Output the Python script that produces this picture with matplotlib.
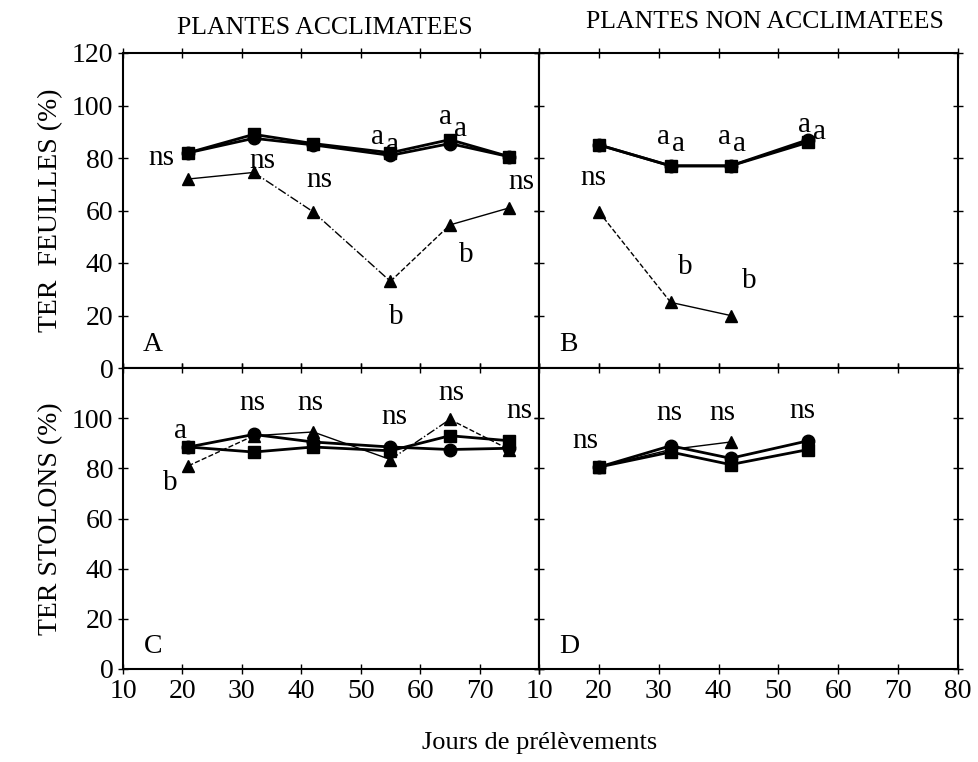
import matplotlib
matplotlib.use("Agg")
import matplotlib.pyplot as plt

plt.rcParams['font.family'] = ['Liberation Serif', 'DejaVu Serif']

# ---------------- data ----------------
days_acc = [21, 32, 42, 55, 65, 75]
days_non = [20, 32, 42, 55]
days_non_tri = [20, 32, 42]

# Panel A: TER feuilles, plantes acclimatées
A_square = [82, 89, 85.5, 82, 87, 80.5]
A_circle = [82, 87.5, 85, 81, 85.5, 80.5]
A_triangle = [72, 74.5, 59.5, 33, 54.5, 61]

# Panel B: TER feuilles, plantes non acclimatées
B_square = [85, 77, 77, 86]
B_circle = [85, 77, 77, 87]
B_triangle = [59.5, 25, 20]

# Panel C: TER stolons, plantes acclimatées
C_square = [88.5, 86.5, 88.5, 87, 93, 91]
C_circle = [88.5, 93.5, 90.5, 88.5, 87.5, 88]
C_triangle = [81, 93, 94.5, 83.5, 99.5, 87.5]

# Panel D: TER stolons, plantes non acclimatées
D_square = [80.5, 86.5, 81.5, 87.5]
D_circle = [80.5, 89, 84, 91]
D_triangle = [80.5, 87.5, 90.5]

# annotations (text, x, y)
A_notes = [("ns", 16.5, 80), ("ns", 33.5, 79), ("ns", 43, 71.5),
           ("a", 52.8, 88), ("a", 55.3, 85), ("a", 64.3, 95.5), ("a", 66.8, 91),
           ("b", 56, 19.5), ("b", 67.8, 43), ("ns", 77, 71)]
B_notes = [("ns", 19, 72.5), ("a", 30.8, 88), ("a", 33.3, 85.2),
           ("a", 41.0, 88), ("a", 43.5, 85.5), ("a", 54.3, 92.5), ("a", 56.8, 90)]
B_notes += [("b", 34.4, 38.5), ("b", 45.2, 33)]
C_notes = [("a", 19.7, 95), ("b", 18, 74), ("ns", 31.7, 106), ("ns", 41.6, 106),
           ("ns", 55.6, 100.5), ("ns", 65.3, 110), ("ns", 76.7, 103)]
D_notes = [("ns", 17.7, 91), ("ns", 31.8, 102), ("ns", 40.7, 102), ("ns", 54, 103)]

panel_letters = ["A", "B", "C", "D"]
titles = ["PLANTES ACCLIMATEES", "PLANTES NON ACCLIMATEES"]
ylabels = ["TER  FEUILLES (%)", "TER STOLONS (%)"]
xlabel = "Jours de prélèvements"
xticks = [10, 20, 30, 40, 50, 60, 70, 80]
yticks_top = [0, 20, 40, 60, 80, 100, 120]
yticks_bot = [0, 20, 40, 60, 80, 100]

# triangle segment line styles (per segment)
tri_styles = {
    "A": ['-', '-.', '-.', '--', '-'],
    "B": ['--', '-'],
    "C": ['--', '-', '-', '-.', '--'],
    "D": ['-', '-'],
}

# ---------------- figure ----------------
fig = plt.figure(figsize=(9.79, 7.62), dpi=100)
L, M, R = 123 / 979, 539 / 979, 958 / 979
T, MID, B = 1 - 53 / 762, 1 - 368 / 762, 1 - 669 / 762
axA = fig.add_axes([L, MID, M - L, T - MID])
axB = fig.add_axes([M, MID, R - M, T - MID])
axC = fig.add_axes([L, B, M - L, MID - B])
axD = fig.add_axes([M, B, R - M, MID - B])


def draw_tri(ax, x, y, styles):
    for i in range(len(x) - 1):
        ax.plot(x[i:i + 2], y[i:i + 2], color='black', lw=1.0, ls=styles[i])
    ax.plot(x, y, ls='none', marker='^', ms=9, color='black')


def draw(ax, x, sq, ci, xt, tri, styles, notes, letter):
    ax.plot(x, ci, color='black', lw=2.0, marker='o', ms=9)
    ax.plot(x, sq, color='black', lw=2.0, marker='s', ms=8)
    draw_tri(ax, xt, tri, styles)
    for t, xx, yy in notes:
        ax.text(xx, yy, t, fontsize=21, ha='center', va='center')
    ax.text(15, 9, letter, fontsize=20, ha='center', va='center')


draw(axA, days_acc, A_square, A_circle, days_acc, A_triangle, tri_styles["A"], A_notes, "A")
draw(axB, days_non, B_square, B_circle, days_non_tri, B_triangle, tri_styles["B"], B_notes, "B")
draw(axC, days_acc, C_square, C_circle, days_acc, C_triangle, tri_styles["C"], C_notes, "C")
draw(axD, days_non, D_square, D_circle, days_non_tri, D_triangle, tri_styles["D"], D_notes, "D")

for ax in (axA, axB, axC, axD):
    ax.set_xlim(10, 80)
    ax.set_ylim(0, 120)
    ax.set_xticks(xticks)
    ax.tick_params(direction='inout', length=7, width=1, top=True, right=True,
                   labelsize=20)
    for s in ax.spines.values():
        s.set_linewidth(1.5)

axA.set_yticks(yticks_top)
axB.set_yticks(yticks_top)
axC.set_yticks(yticks_bot)
axD.set_yticks(yticks_bot)
for ax in (axA, axB):
    ax.tick_params(labelbottom=False)
for ax in (axB, axD):
    ax.tick_params(labelleft=False)
axC.set_xticklabels([str(v) for v in xticks[:-1]] + [""])

axA.set_ylabel(ylabels[0], fontsize=20, labelpad=6)
axC.set_ylabel(ylabels[1], fontsize=20, labelpad=6)

fig.text(325 / 979, 1 - 28 / 762, titles[0], fontsize=18.5, ha='center', va='center')
fig.text(765 / 979, 1 - 22 / 762, titles[1], fontsize=18.5, ha='center', va='center')
fig.text(540 / 979, 1 - 743 / 762, xlabel, fontsize=19, ha='center', va='center')

fig.savefig("out.png", dpi=100)
